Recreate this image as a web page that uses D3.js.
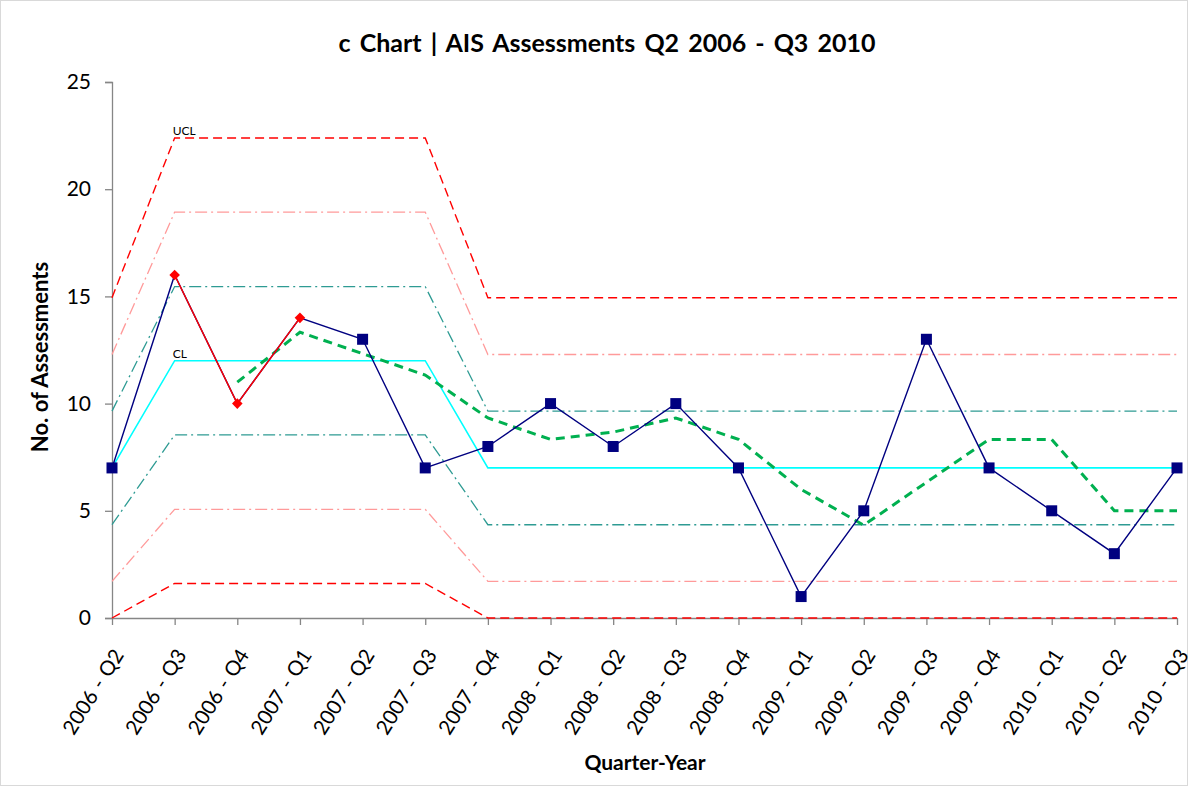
<!DOCTYPE html>
<html>
<head>
<meta charset="utf-8">
<script src="https://cdn.jsdelivr.net/npm/d3@7"></script>
<style>
  html, body { margin: 0; padding: 0; background: #fff; }
  svg { display: block; }
  text { font-family: Lato, "Open Sans", sans-serif; fill: #000; }
</style>
</head>
<body>
<svg id="chart" width="1197" height="787"></svg>
<script>
const categories = ["2006 - Q2","2006 - Q3","2006 - Q4","2007 - Q1","2007 - Q2","2007 - Q3","2007 - Q4","2008 - Q1","2008 - Q2","2008 - Q3","2008 - Q4","2009 - Q1","2009 - Q2","2009 - Q3","2009 - Q4","2010 - Q1","2010 - Q2","2010 - Q3"];
const assessments = [7,16,10,14,13,7,8,10,8,10,7,1,5,13,7,5,3,7];
const signalPoints = [null,16,10,14,null,null,null,null,null,null,null,null,null,null,null,null,null,null];
const movingAvg = [null,null,11,13.33,12.33,11.33,9.33,8.33,8.67,9.33,8.33,6,4.33,6.33,8.33,8.33,5,5];
const cl     = [7,12,12,12,12,12,7,7,7,7,7,7,7,7,7,7,7,7];
const ucl    = [14.94,22.39,22.39,22.39,22.39,22.39,14.94,14.94,14.94,14.94,14.94,14.94,14.94,14.94,14.94,14.94,14.94,14.94];
const plus2  = [12.29,18.93,18.93,18.93,18.93,18.93,12.29,12.29,12.29,12.29,12.29,12.29,12.29,12.29,12.29,12.29,12.29,12.29];
const plus1  = [9.65,15.46,15.46,15.46,15.46,15.46,9.65,9.65,9.65,9.65,9.65,9.65,9.65,9.65,9.65,9.65,9.65,9.65];
const minus1 = [4.35,8.54,8.54,8.54,8.54,8.54,4.35,4.35,4.35,4.35,4.35,4.35,4.35,4.35,4.35,4.35,4.35,4.35];
const minus2 = [1.71,5.07,5.07,5.07,5.07,5.07,1.71,1.71,1.71,1.71,1.71,1.71,1.71,1.71,1.71,1.71,1.71,1.71];
const lcl    = [0,1.61,1.61,1.61,1.61,1.61,0,0,0,0,0,0,0,0,0,0,0,0];
const yTicks = [0,5,10,15,20,25];

const svg = d3.select("#chart");
const x = d3.scalePoint().domain(categories).range([112, 1177]);
const y = d3.scaleLinear().domain([0, 25]).range([618, 82]);

// outer border
svg.append("rect").attr("x", 0.5).attr("y", 0.5).attr("width", 1187).attr("height", 785)
  .attr("fill", "none").attr("stroke", "#d9d9d9");

// title
svg.append("text").attr("x", 607).attr("y", 52).attr("text-anchor", "middle")
  .style("font-weight", "bold").style("font-size", "25px").style("word-spacing", "3px")
  .text("c Chart | AIS Assessments Q2 2006 - Q3 2010");

// axes
const yAxis = svg.append("g").attr("transform", "translate(112,0)")
  .call(d3.axisLeft(y).tickValues(yTicks).tickSize(7).tickPadding(14).tickFormat(d3.format("d")));
yAxis.selectAll("path, line").attr("stroke", "#868686").attr("stroke-width", 1.3);
yAxis.selectAll("text").style("font-size", "21px").style("font-family", "Lato, sans-serif").attr("fill", "#000");

const xAxis = svg.append("g").attr("transform", "translate(0,618)")
  .call(d3.axisBottom(x).tickSize(7).tickSizeOuter(0));
xAxis.selectAll("path, line").attr("stroke", "#868686").attr("stroke-width", 1.3);
xAxis.selectAll("text")
  .style("font-size", "20.5px").style("font-family", "Lato, sans-serif").attr("fill", "#000")
  .style("word-spacing", "1px")
  .attr("text-anchor", "end")
  .attr("y", 0).attr("dy", "0.35em")
  .attr("transform", "translate(6,33) rotate(-58)");

// axis titles
svg.append("text").attr("transform", "translate(48,357) rotate(-90)").attr("text-anchor", "middle")
  .style("font-weight", "bold").style("font-size", "22px").text("No. of Assessments");
svg.append("text").attr("x", 645).attr("y", 770).attr("text-anchor", "middle")
  .style("font-weight", "bold").style("font-size", "21px").text("Quarter-Year");

const line = d3.line()
  .defined(d => d != null)
  .x((d, i) => x(categories[i]))
  .y(d => y(d));

function limitLine(values, color, dash, width) {
  svg.append("path").datum(values).attr("d", line)
    .attr("fill", "none").attr("stroke", color).attr("stroke-width", width)
    .attr("stroke-dasharray", dash);
}
limitLine(ucl, "#ff0000", "9,5", 1.4);
limitLine(lcl, "#ff0000", "9,5", 1.4);
limitLine(plus2, "#ff9a9a", "12,4,2,4", 1.3);
limitLine(minus2, "#ff9a9a", "12,4,2,4", 1.3);
limitLine(plus1, "#2e9b93", "12,4,2,4", 1.3);
limitLine(minus1, "#2e9b93", "12,4,2,4", 1.3);
limitLine(cl, "#00ffff", null, 1.6);

// limit labels
svg.append("text").attr("x", x(categories[1]) - 2).attr("y", y(ucl[1]) - 3)
  .style("font-size", "12px").text("UCL");
svg.append("text").attr("x", x(categories[1]) - 2).attr("y", y(cl[1]) - 3)
  .style("font-size", "12px").text("CL");

// moving average
svg.append("path").datum(movingAvg).attr("d", line)
  .attr("fill", "none").attr("stroke", "#00b050").attr("stroke-width", 3)
  .attr("stroke-dasharray", "9,6");

// data line
svg.append("path").datum(assessments).attr("d", line)
  .attr("fill", "none").attr("stroke", "#000080").attr("stroke-width", 1.4);
svg.selectAll("rect.pt").data(assessments.map((v, i) => ({v, i})).filter(d => signalPoints[d.i] == null))
  .enter().append("rect").attr("class", "pt")
  .attr("x", d => x(categories[d.i]) - 5.5).attr("y", d => y(d.v) - 5.5)
  .attr("width", 11).attr("height", 11).attr("fill", "#000080");

// out-of-control segment
svg.append("path").datum(signalPoints).attr("d", line)
  .attr("fill", "none").attr("stroke", "#ff0000").attr("stroke-width", 1.4);
svg.selectAll("path.dia").data(signalPoints.map((v, i) => ({v, i})).filter(d => d.v != null))
  .enter().append("path").attr("class", "dia")
  .attr("d", d3.symbol().type(d3.symbolSquare).size(56))
  .attr("transform", d => `translate(${x(categories[d.i])},${y(d.v)}) rotate(45)`)
  .attr("fill", "#ff0000");
</script>
</body>
</html>
